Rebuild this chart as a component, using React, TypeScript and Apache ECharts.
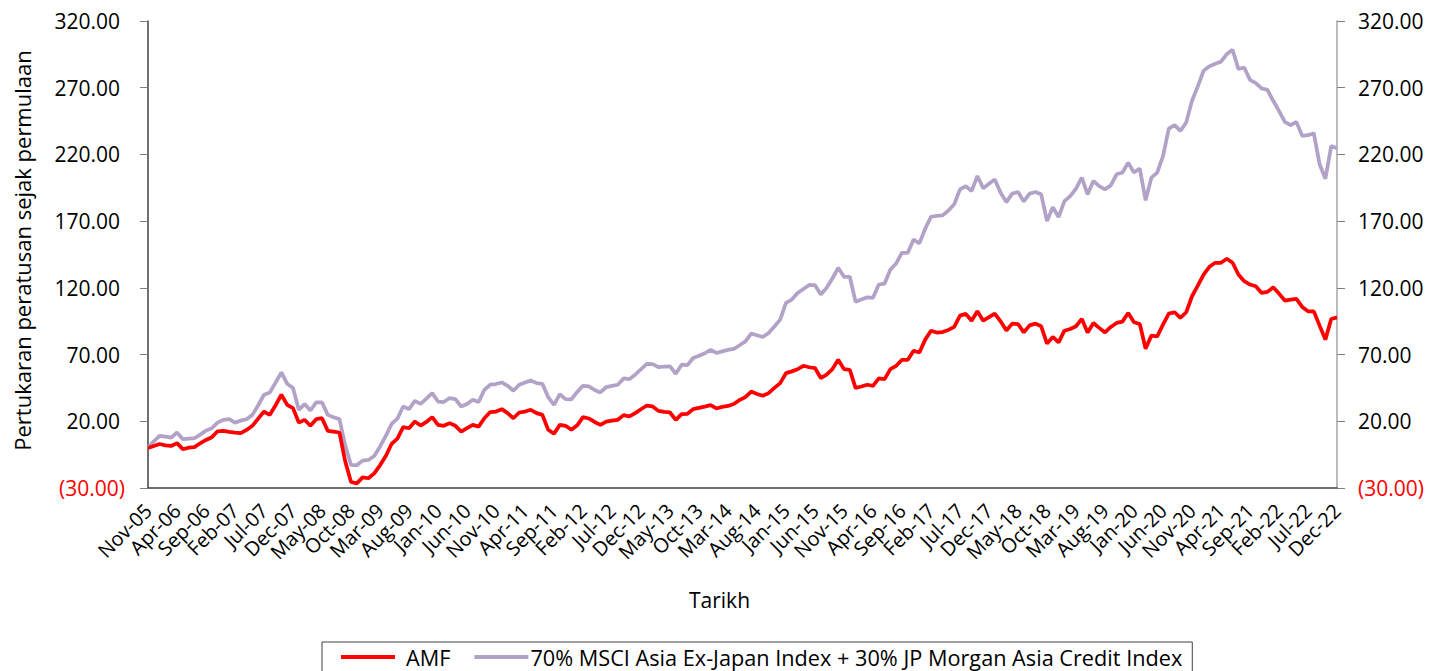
import React, { useEffect, useRef } from 'react';
import * as echarts from 'echarts';

const MONTH_NAMES = ['Jan', 'Feb', 'Mar', 'Apr', 'May', 'Jun', 'Jul', 'Aug', 'Sep', 'Oct', 'Nov', 'Dec'];
const START_YEAR = 2005;
const START_MONTH = 10; // Nov

const amf = [
  0, 1.5, 3.0, 2.0, 1.5, 3.6, -0.9, 0.2, 0.6, 3.5,
  6.0, 8.0, 12.5, 12.8, 12.0, 11.5, 11.1, 13.5, 16.6, 22.0,
  27.3, 24.8, 32.0, 39.9, 32.3, 29.9, 19.0, 21.1, 16.6, 21.6,
  22.3, 12.8, 12.2, 11.6, -10, -25.5, -26.5, -22, -22.7, -19,
  -13, -6, 3, 7, 15.6, 14.8, 19.8, 16.8, 19.5, 23.1,
  17.3, 16.6, 18.6, 16.6, 12.3, 14.8, 17.3, 16.0, 22.3, 26.9,
  27.3, 29.1, 26.1, 22.3, 26.6, 27.3, 28.6, 26.1, 24.8, 13.6,
  10.6, 17.3, 16.6, 13.6, 17, 23.1, 22.1, 19.5, 17.3, 19.8,
  20.5, 21.1, 24.6, 23.6, 26.1, 29, 31.8, 31.1, 27.8, 27,
  26.6, 21.1, 25.4, 25.6, 29.1, 30.1, 31, 32.1, 29.6, 30.8,
  31.5, 32.9, 36, 38.1, 42.3, 40.5, 39.1, 41.1, 45, 48.6,
  56.1, 57.4, 59, 61.6, 60.5, 59.9, 52.4, 54.9, 59.1, 66.1,
  59.1, 58.6, 44.9, 46.1, 47.4, 46.6, 52.1, 51.6, 59.1, 61.6,
  66.1, 66.1, 72.9, 71.6, 81.2, 87.9, 86.5, 86.9, 88.5, 90.7,
  99.2, 100.5, 95.4, 102.4, 95.4, 98, 100.7, 94.9, 88.1, 93.2,
  92.9, 86.6, 91.9, 93.2, 91.2, 78.2, 83.2, 79.1, 87.9, 89.2,
  91.2, 96.7, 86.6, 93.7, 90, 86.6, 90.7, 93.7, 94.7, 101.2,
  94.2, 92.9, 74.4, 84.2, 83.6, 92.4, 100.7, 101.7, 97.5, 101.7,
  113.7, 121.7, 130, 135.8, 138.8, 138.8, 141.8, 138.8, 130, 125,
  122.5, 121.2, 116.2, 117, 120.4, 115.7, 110.5, 111.2, 111.7, 105.7,
  102.4, 102.4, 91.7, 81.2, 96.7, 97.9,
];

const benchmark = [
  0, 5, 9.1, 8.5, 7.8, 11.6, 6.6, 7, 7.3, 10,
  13, 14.8, 19, 21.1, 21.6, 19, 20.5, 21.6, 24.8, 32,
  39.9, 41.6, 49, 56.6, 48.1, 44.9, 28.6, 32.9, 28.1, 34.1,
  34.1, 24.8, 23, 21.6, 2, -12.7, -13, -9.5, -9, -6,
  1, 9, 18, 22, 31.1, 29.1, 35.3, 33.1, 37, 41.1,
  34.8, 34.4, 37.4, 36.6, 31.1, 32.9, 36.1, 34.4, 43.6, 47.4,
  47.9, 49.1, 46.6, 42.9, 47.4, 49.1, 50.6, 48.6, 48.1, 38.1,
  32.3, 40.3, 36.6, 36.5, 42, 46.6, 46.1, 43.5, 41.6, 45.6,
  46.5, 47.4, 52.1, 51.6, 54.9, 59, 63.1, 62.9, 60.6, 61,
  61.1, 55.6, 62.4, 62.1, 67.4, 69.1, 71, 73.6, 71.2, 72.4,
  73.5, 74.2, 77, 79.9, 85.7, 84.5, 83.2, 86.2, 91, 96.2,
  108.7, 111.2, 116.2, 119.2, 122.2, 122, 115, 120, 127, 135,
  128.3, 128.3, 109.5, 111.2, 112.9, 112.5, 122.5, 123.2, 133.7, 138.3,
  146.3, 146.3, 156.3, 153.3, 164.3, 173.3, 174, 174.3, 178, 182.6,
  193.8, 196.3, 192.5, 203.8, 194.6, 198, 201.3, 191.3, 184.3, 190.6,
  191.8, 184.8, 190.6, 191.8, 190.1, 170, 180.5, 173, 185, 188.8,
  194.3, 202.6, 190.1, 200.1, 196.3, 193.8, 196.8, 205.1, 206.4, 213.9,
  206.4, 209.4, 185.6, 202.6, 206.4, 218.8, 239.4, 241.9, 237.6, 243.9,
  260.2, 271, 282.7, 286, 288, 289.5, 295.2, 298.5, 284, 285.2,
  275.9, 273.4, 269.5, 268.4, 260.2, 252.6, 244.4, 241.9, 244.4, 233.9,
  234.4, 235.9, 212.6, 201.8, 226.3, 224.6,
];

const categories = amf.map((_, i) => {
  const m = (START_MONTH + i) % 12;
  const y = START_YEAR + Math.floor((START_MONTH + i) / 12);
  return `${MONTH_NAMES[m]}-${String(y % 100).padStart(2, '0')}`;
});

const Y_MIN = -30;
const Y_MAX = 320;
const Y_STEP = 50;

const SERIES_NAMES = ['AMF', '70% MSCI Asia Ex-Japan Index + 30% JP Morgan Asia Credit Index'];
const COLORS = ['#FF0000', '#B3A2C7'];

const FONT = '"Open Sans", "Noto Sans", sans-serif';
const FS = 21;

export default function App() {
  const ref = useRef<HTMLDivElement>(null);
  useEffect(() => {
    document.body.style.margin = '0';
    const chart = echarts.init(ref.current!, null, { renderer: 'svg' });
    const fmt = (pad: boolean) => (v: number) =>
      v < 0 ? `{n|(${Math.abs(v).toFixed(2)})}` : pad ? `{p|${v.toFixed(2)}}` : `{q|${v.toFixed(2)}}`;
    const rich = {
      n: { color: '#FF0000', fontSize: FS, fontFamily: FONT },
      p: { color: '#000', fontSize: FS, fontFamily: FONT, padding: [0, 5, 0, 0] },
      q: { color: '#000', fontSize: FS, fontFamily: FONT },
    };
    const yBase = {
      type: 'value',
      min: Y_MIN,
      max: Y_MAX,
      interval: Y_STEP,
      splitLine: { show: false },
      axisTick: { show: true, length: 8, lineStyle: { color: '#7F7F7F' } },
    };
    chart.setOption({
      animation: false,
      textStyle: { fontFamily: FONT },
      grid: {
        left: 148,
        right: 110,
        top: 21,
        bottom: 183,
        containLabel: false,
        outerBoundsMode: 'none',
      },
      legend: {
        left: 322,
        top: 642,
        icon: 'rect',
        data: [
          { name: SERIES_NAMES[0], textStyle: { padding: [0, 0, 0, 6] } },
          { name: SERIES_NAMES[1], textStyle: { padding: [0, 0, 0, -3] } },
        ],
        itemWidth: 54,
        itemHeight: 4,
        itemGap: 24,
        padding: [4, 10, 12, 19],
        borderColor: '#404040',
        borderWidth: 1,
        textStyle: { fontSize: 21.7, color: '#000', fontFamily: FONT },
      },
      xAxis: {
        type: 'category',
        data: categories,
        boundaryGap: false,
        name: 'Tarikh',
        nameLocation: 'middle',
        nameGap: 101,
        nameTextStyle: { fontSize: FS, color: '#000', fontFamily: FONT, padding: [0, 46, 0, 0] },
        axisLine: { onZero: false, lineStyle: { color: '#404040', width: 1.5 } },
        axisTick: { show: false },
        axisLabel: {
          interval: 4,
          rotate: 45,
          margin: 19,
          fontSize: 20,
          color: '#000',
          fontFamily: FONT,
          showMinLabel: true,
          showMaxLabel: true,
          hideOverlap: false,
        },
      },
      yAxis: [
        {
          ...yBase,
          position: 'left',
          name: 'Pertukaran peratusan sejak permulaan',
          nameLocation: 'middle',
          nameGap: 115,
          nameTextStyle: { fontSize: 22, color: '#000', fontFamily: FONT, padding: [0, 0, 0, 8] },
          axisLine: { show: true, onZero: false, lineStyle: { color: '#404040', width: 1.5 } },
          axisLabel: { formatter: fmt(true), rich, margin: 23 },
        },
        {
          ...yBase,
          position: 'right',
          axisLine: { show: true, onZero: false, lineStyle: { color: '#A6A6A6', width: 1.5 } },
          axisLabel: { formatter: fmt(false), rich, margin: 21 },
        },
      ],
      series: [
        {
          name: SERIES_NAMES[0],
          type: 'line',
          data: amf,
          yAxisIndex: 0,
          showSymbol: false,
          symbol: 'none',
          lineStyle: { color: COLORS[0], width: 3.75 },
          itemStyle: { color: COLORS[0] },
          z: 3,
        },
        {
          name: SERIES_NAMES[1],
          type: 'line',
          data: benchmark,
          yAxisIndex: 0,
          showSymbol: false,
          symbol: 'none',
          lineStyle: { color: COLORS[1], width: 3.75 },
          itemStyle: { color: COLORS[1] },
          z: 2,
        },
      ],
    });
    return () => chart.dispose();
  }, []);
  return <div ref={ref} style={{ width: 1447, height: 671 }} />;
}
